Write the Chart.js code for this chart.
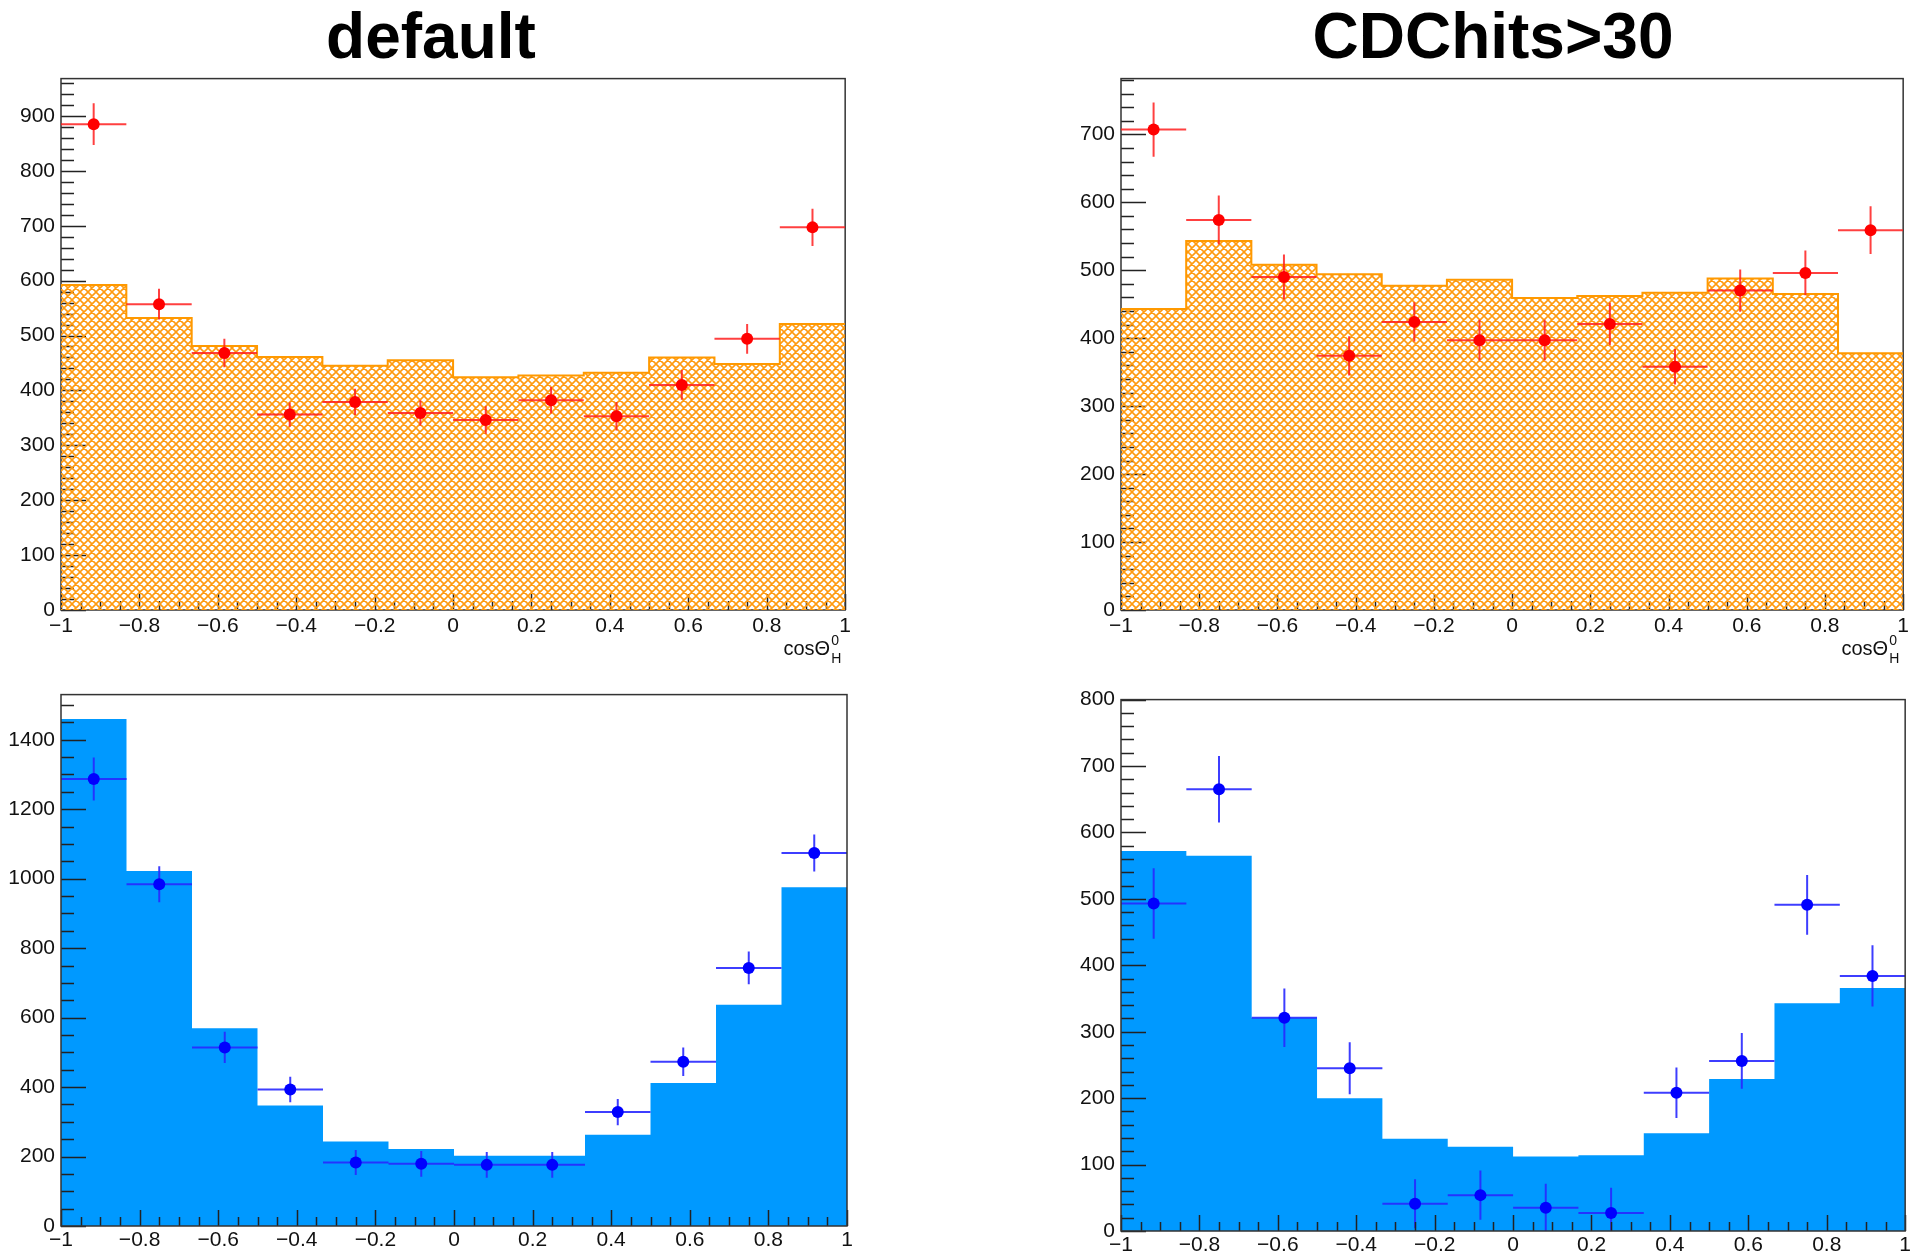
<!DOCTYPE html>
<html>
<head>
<meta charset="utf-8">
<script src="https://cdn.jsdelivr.net/npm/chart.js@4.4.0/dist/chart.umd.min.js"></script>
<style>
  html, body { margin: 0; padding: 0; background: #fff; }
  body { width: 1913px; height: 1255px; position: relative; overflow: hidden;
         font-family: 'Liberation Sans', Arial, Helvetica, sans-serif; }
  .title { position: absolute; top: 4px; width: 400px; text-align: center;
           font-weight: bold; font-size: 64px; line-height: 64px; color: #000; }
  .panel { position: absolute; }
</style>
</head>
<body>
<div class="title" style="left:231px">default</div>
<div class="title" style="left:1293px">CDChits&gt;30</div>

<div class="panel" style="left:0px;top:60px;width:855px;height:610px"><canvas id="topDefault"></canvas></div>
<div class="panel" style="left:1060px;top:60px;width:853px;height:610px"><canvas id="topCdc"></canvas></div>
<div class="panel" style="left:0px;top:676px;width:855px;height:579px"><canvas id="botDefault"></canvas></div>
<div class="panel" style="left:1060px;top:681px;width:853px;height:574px"><canvas id="botCdc"></canvas></div>

<script>
// 12 bins in cos(theta_H), -1 .. 1
const binEdges = [-1, -5/6, -4/6, -3/6, -2/6, -1/6, 0, 1/6, 2/6, 3/6, 4/6, 5/6, 1];
const xTicks = [-1, -0.8, -0.6, -0.4, -0.2, 0, 0.2, 0.4, 0.6, 0.8, 1];

// upper row: hatched histogram + red points
const topDefaultHist = [592, 532, 481, 461, 445, 455, 424, 427, 432, 460, 448, 521];
const topDefaultPts  = [885, 557, 468, 356, 379, 359, 346, 382, 353, 410, 494, 697];
const topDefaultErr  = [38, 28, 26, 22, 24, 23, 25, 24, 26, 27, 27, 34];

const topCdcHist = [443, 543, 508, 494, 477, 486, 459, 462, 467, 488, 465, 378];
const topCdcPts  = [707, 574, 490, 374, 424, 397, 397, 421, 358, 470, 496, 559];
const topCdcErr  = [40, 36, 33, 29, 29, 30, 30, 31, 26, 31, 33, 35];

// lower row: solid histogram + blue points
const botDefaultHist = [1460, 1022, 569, 347, 243, 222, 202, 202, 263, 412, 637, 975];
const botDefaultPts  = [1287, 984, 514, 393, 183, 179, 176, 176, 328, 473, 743, 1074];
const botDefaultErr  = [62, 52, 45, 37, 36, 37, 37, 37, 38, 41, 47, 53];

const botCdcHist = [572, 565, 321, 200, 139, 127, 112, 114, 147, 229, 343, 366];
const botCdcPts  = [493, 665, 321, 245, 41, 54, 35, 27, 208, 256, 491, 384];
const botCdcErr  = [53, 50, 44, 39, 37, 37, 36, 38, 38, 42, 45, 46];

const FONT = "'Liberation Sans', Arial, Helvetica, sans-serif";

function hatch(color) {
  const c = document.createElement('canvas');
  c.width = 8; c.height = 8;
  const g = c.getContext('2d');
  g.strokeStyle = color;
  g.lineWidth = 1.6;
  g.beginPath();
  for (const d of [-8, 0, 8]) {
    g.moveTo(d, 0); g.lineTo(d + 8, 8);
    g.moveTo(d, 8); g.lineTo(d + 8, 0);
  }
  g.stroke();
  return g.createPattern(c, 'repeat');
}

// step outline: one point per left bin edge plus the last right edge
function histPoints(vals) {
  const pts = vals.map((v, i) => ({ x: binEdges[i], y: v }));
  pts.push({ x: binEdges[binEdges.length - 1], y: vals[vals.length - 1] });
  return pts;
}

function centerPoints(vals) {
  return vals.map((v, i) => ({ x: (binEdges[i] + binEdges[i + 1]) / 2, y: v }));
}

// ROOT-style inward ticks and frame
function drawAxes(chart, o) {
  const { ctx, chartArea: a, scales: { x, y } } = chart;
  ctx.save();
  ctx.strokeStyle = '#222';
  ctx.lineWidth = 1.5;
  ctx.beginPath();
  const ny = Math.floor((y.max - y.min) / o.yMinor + 1e-6);
  for (let i = 0; i <= ny; i++) {
    const v = y.min + i * o.yMinor;
    const py = Math.round(y.getPixelForValue(v)) + 0.5;
    const len = (i % o.yPer === 0) ? 25 : 13;
    ctx.moveTo(a.left, py); ctx.lineTo(a.left + len, py);
  }
  const nx = Math.round((x.max - x.min) / o.xMinor);
  for (let i = 0; i <= nx; i++) {
    const v = x.min + i * o.xMinor;
    const px = Math.round(x.getPixelForValue(v)) + 0.5;
    const len = (i % o.xPer === 0) ? 16 : 9;
    ctx.moveTo(px, a.bottom); ctx.lineTo(px, a.bottom - len);
  }
  ctx.stroke();
  ctx.strokeStyle = '#333';
  ctx.strokeRect(a.left, a.top, a.right - a.left, a.bottom - a.top);
  ctx.restore();
}

const rootAxes = {
  id: 'rootAxes',
  beforeDatasetsDraw(chart, args, o) { if (o.under) drawAxes(chart, o); },
  afterDatasetsDraw(chart, args, o) { if (!o.under) drawAxes(chart, o); }
};

// error crosses drawn just before the marker dataset
const errorBars = {
  id: 'errorBars',
  beforeDatasetDraw(chart, args) {
    const ds = chart.data.datasets[args.index];
    if (!ds.yErr) return;
    const { ctx, chartArea: a, scales: { x, y } } = chart;
    ctx.save();
    ctx.beginPath();
    ctx.rect(a.left, a.top, a.right - a.left, a.bottom - a.top);
    ctx.clip();
    ctx.strokeStyle = ds.errColor;
    ctx.lineWidth = 2;
    ctx.beginPath();
    ds.data.forEach((p, i) => {
      const e = ds.yErr[i];
      const px = x.getPixelForValue(p.x);
      const py = y.getPixelForValue(p.y);
      ctx.moveTo(px, y.getPixelForValue(p.y - e));
      ctx.lineTo(px, y.getPixelForValue(p.y + e));
      ctx.moveTo(x.getPixelForValue(binEdges[i]), py);
      ctx.lineTo(x.getPixelForValue(binEdges[i + 1]), py);
    });
    ctx.stroke();
    ctx.restore();
  }
};

// axis title: cos Theta^0_H
const axisTitle = {
  id: 'axisTitle',
  afterDraw(chart, args, o) {
    if (!o.show) return;
    const { ctx, chartArea: a } = chart;
    const xEnd = a.right - 15;
    const base = a.bottom + 45;
    ctx.save();
    ctx.fillStyle = '#111';
    ctx.textBaseline = 'alphabetic';
    ctx.textAlign = 'right';
    ctx.font = '20px ' + FONT;
    ctx.fillText('cos\u0398', xEnd, base);
    ctx.textAlign = 'left';
    ctx.font = '14px ' + FONT;
    ctx.fillText('0', xEnd + 1, base - 10);
    ctx.fillText('H', xEnd + 1, base + 8);
    ctx.restore();
  }
};

function makePanel(id, cfg) {
  new Chart(document.getElementById(id), {
    type: 'scatter',
    data: {
      datasets: [
        {
          type: 'line',
          data: histPoints(cfg.hist),
          stepped: true,
          fill: 'origin',
          backgroundColor: cfg.fill,
          borderColor: cfg.line,
          borderWidth: cfg.lineWidth,
          pointRadius: 0,
          order: 2
        },
        {
          type: 'scatter',
          data: centerPoints(cfg.pts),
          yErr: cfg.err,
          errColor: cfg.errColor,
          pointRadius: 6,
          pointBackgroundColor: cfg.marker,
          pointBorderWidth: 0,
          order: 1
        }
      ]
    },
    options: {
      responsive: true,
      maintainAspectRatio: false,
      animation: false,
      events: [],
      layout: { padding: { top: 14, right: cfg.padRight, left: 0, bottom: 0 } },
      scales: {
        x: {
          type: 'linear',
          min: -1, max: 1,
          afterBuildTicks: s => { s.ticks = xTicks.map(v => ({ value: v })); },
          afterFit: s => { s.height = cfg.bottom; },
          grid: { display: false, drawTicks: false },
          border: { display: false },
          ticks: {
            autoSkip: false, maxRotation: 0, padding: cfg.xPad,
            color: '#111', font: { family: FONT, size: 21 },
            callback: v => String(Math.round(v * 10) / 10).replace('-', '\u2212')
          }
        },
        y: {
          type: 'linear',
          min: 0, max: cfg.yMax,
          afterFit: s => { s.width = 61; },
          grid: { display: false, drawTicks: false },
          border: { display: false },
          ticks: {
            stepSize: cfg.yStep, includeBounds: false, padding: 6,
            color: '#111', font: { family: FONT, size: 21 },
            callback: v => String(v)
          }
        }
      },
      plugins: {
        legend: { display: false },
        tooltip: { enabled: false },
        rootAxes: { under: cfg.under, yMinor: cfg.yMinor, yPer: cfg.yStep / cfg.yMinor, xMinor: 0.05, xPer: 4 },
        axisTitle: { show: cfg.title }
      }
    },
    plugins: [rootAxes, errorBars, axisTitle]
  });
}

const orangeHatch = hatch('#ff9a10');

makePanel('topDefault', {
  hist: topDefaultHist, pts: topDefaultPts, err: topDefaultErr,
  fill: orangeHatch, line: '#ff9900', lineWidth: 2,
  marker: '#ff0000', errColor: 'rgba(255,30,30,0.85)',
  yMax: 968, yStep: 100, yMinor: 20, padRight: 8, bottom: 60, xPad: 4,
  under: true, title: true
});
makePanel('topCdc', {
  hist: topCdcHist, pts: topCdcPts, err: topCdcErr,
  fill: orangeHatch, line: '#ff9900', lineWidth: 2,
  marker: '#ff0000', errColor: 'rgba(255,30,30,0.85)',
  yMax: 782, yStep: 100, yMinor: 20, padRight: 6, bottom: 60, xPad: 4,
  under: true, title: true
});
makePanel('botDefault', {
  hist: botDefaultHist, pts: botDefaultPts, err: botDefaultErr,
  fill: '#0099ff', line: '#0099ff', lineWidth: 0,
  marker: '#0000ff', errColor: 'rgba(40,40,255,0.9)',
  yMax: 1530, yStep: 200, yMinor: 50, padRight: 8, bottom: 29, xPad: 2,
  under: false, title: false
});
makePanel('botCdc', {
  hist: botCdcHist, pts: botCdcPts, err: botCdcErr,
  fill: '#0099ff', line: '#0099ff', lineWidth: 0,
  marker: '#0000ff', errColor: 'rgba(40,40,255,0.9)',
  yMax: 800, yStep: 100, yMinor: 20, padRight: 6, bottom: 24, xPad: 2,
  under: false, title: false
});
</script>
</body>
</html>
